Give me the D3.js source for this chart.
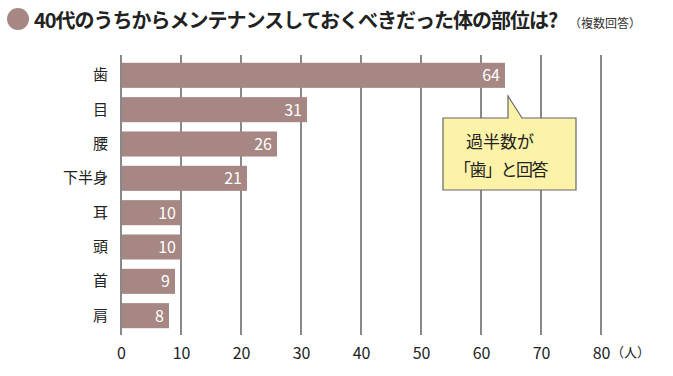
<!DOCTYPE html>
<html>
<head>
<meta charset="utf-8">
<script src="https://cdn.jsdelivr.net/npm/d3@7"></script>
<style>
  body { margin: 0; background: #fff; }
  text { font-family: "Noto Sans CJK JP", "Noto Sans", sans-serif; }
</style>
</head>
<body>
<div id="chart"></div>
<script>
// 部位と人数
const parts = ['歯', '目', '腰', '下半身', '耳', '頭', '首', '肩'];
const counts = [64, 31, 26, 21, 10, 10, 9, 8];
const tickValues = [0, 10, 20, 30, 40, 50, 60, 70, 80];

const width = 673, height = 376;
const barColor = '#a68783';
const gridColor = '#4a4a4a';

const svg = d3.select('#chart')
  .append('svg')
  .attr('width', width)
  .attr('height', height);

// タイトル
svg.append('circle')
  .attr('cx', 18).attr('cy', 19).attr('r', 11)
  .attr('fill', barColor);

svg.append('text')
  .attr('x', 34).attr('y', 28)
  .attr('font-size', 20)
  .attr('font-weight', 'bold')
  .attr('fill', '#222')
  .attr('letter-spacing', -1)
  .text('40代のうちからメンテナンスしておくべきだった体の部位は?');

svg.append('text')
  .attr('x', 569).attr('y', 28)
  .attr('font-size', 12)
  .attr('fill', '#333')
  .text('（複数回答）');

const x = d3.scaleLinear().domain([0, 80]).range([121, 601]);
const y = d3.scaleBand().domain(parts).range([58, 333]).paddingInner(0.27).paddingOuter(0.14);

const gridTop = 55, gridBottom = 335;

// グリッド線
svg.append('g')
  .selectAll('line')
  .data(tickValues)
  .join('line')
  .attr('x1', d => x(d)).attr('x2', d => x(d))
  .attr('y1', gridTop).attr('y2', gridBottom)
  .attr('stroke', gridColor)
  .attr('stroke-width', 1.3);

// 棒
svg.append('g')
  .selectAll('rect')
  .data(counts)
  .join('rect')
  .attr('x', x(0) + 1)
  .attr('y', (d, i) => y(parts[i]))
  .attr('width', d => x(d) - x(0) - 1)
  .attr('height', y.bandwidth())
  .attr('fill', barColor);

// 値ラベル
svg.append('g')
  .selectAll('text')
  .data(counts)
  .join('text')
  .attr('x', d => x(d) - 5)
  .attr('y', (d, i) => y(parts[i]) + y.bandwidth() / 2 + 6)
  .attr('text-anchor', 'end')
  .attr('font-size', 16)
  .attr('fill', '#fff')
  .text(d => d);

// カテゴリラベル
svg.append('g')
  .selectAll('text')
  .data(parts)
  .join('text')
  .attr('x', 108)
  .attr('y', d => y(d) + y.bandwidth() / 2 + 5)
  .attr('text-anchor', 'end')
  .attr('font-size', 15)
  .attr('fill', '#222')
  .text(d => d);

// 軸目盛
const xAxis = svg.append('g')
  .attr('transform', `translate(0,${gridBottom})`)
  .call(d3.axisBottom(x).tickValues(tickValues).tickSize(0).tickPadding(10));
xAxis.select('.domain').remove();
xAxis.selectAll('text')
  .attr('font-size', 16)
  .attr('fill', '#222')
  .attr('dy', '0.9em');

svg.append('text')
  .attr('x', 611).attr('y', 357)
  .attr('font-size', 13)
  .attr('fill', '#222')
  .text('（人）');

// 吹き出し
const bx = 443, by = 118, bw = 133, bh = 72;
const tipX = 508, tipY = 96;
svg.append('path')
  .attr('d', `M${bx},${by} L${tipX},${by} L${tipX},${tipY} L${tipX + 14},${by} L${bx + bw},${by} L${bx + bw},${by + bh} L${bx},${by + bh} Z`)
  .attr('fill', '#fdf3a8')
  .attr('stroke', '#666')
  .attr('stroke-width', 1.2);

svg.append('text')
  .attr('x', 466).attr('y', 148)
  .attr('font-size', 17)
  .attr('fill', '#222')
  .text('過半数が');

svg.append('text')
  .attr('x', 454).attr('y', 176)
  .attr('font-size', 17)
  .attr('fill', '#222')
  .attr('letter-spacing', -1.5)
  .text('「歯」と回答');
</script>
</body>
</html>
